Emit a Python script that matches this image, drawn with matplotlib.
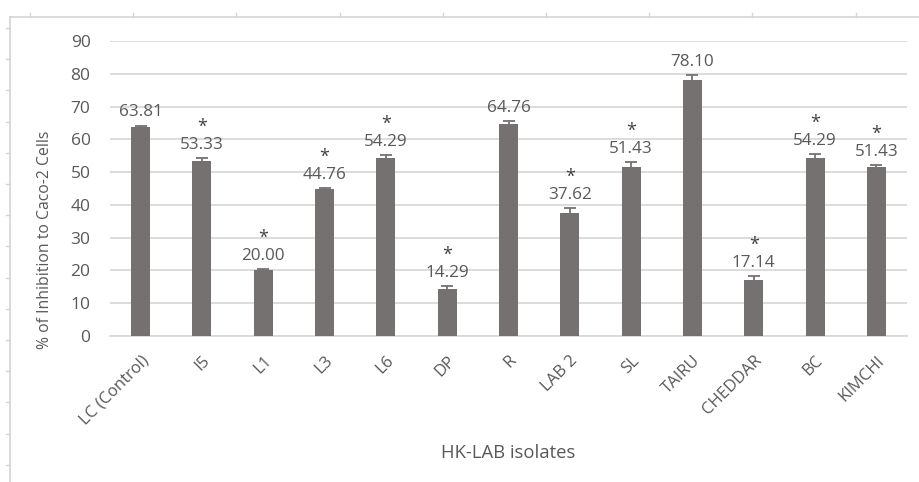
import matplotlib
matplotlib.use("Agg")
import matplotlib.pyplot as plt
from matplotlib.lines import Line2D
import numpy as np

categories = ["LC (Control)", "I5", "L1", "L3", "L6", "DP", "R", "LAB 2",
              "SL", "TAIRU", "CHEDDAR", "BC", "KIMCHI"]
inhibition = [63.81, 53.33, 20.00, 44.76, 54.29, 14.29, 64.76, 37.62,
              51.43, 78.10, 17.14, 54.29, 51.43]
errors = [0.4, 0.9, 0.4, 0.3, 0.9, 0.9, 0.9, 1.3, 1.7, 1.4, 1.2, 1.1, 0.7]
significant = [False, True, True, True, True, True, False, True,
               True, False, True, True, True]
y_ticks = [0, 10, 20, 30, 40, 50, 60, 70, 80, 90]

plt.rcParams['font.family'] = ['Open Sans', 'DejaVu Sans']
text_color = "#595959"
bar_color = "#767171"
grid_color = "#d9d9d9"

fig = plt.figure(figsize=(9.19, 4.82), dpi=100)
ax = fig.add_axes([110 / 919, 1 - 336 / 482, (907 - 110) / 919, (336 - 41) / 482])

x = np.arange(len(categories))
ax.bar(x, inhibition, width=0.31, color=bar_color, zorder=3,
       yerr=errors, error_kw=dict(ecolor=bar_color, elinewidth=1.3,
                                  capsize=4, capthick=1.3, zorder=4))

for xi, v, e, sig in zip(x, inhibition, errors, significant):
    ax.text(xi, v + e + 1.6, f"{v:.2f}", ha="center", va="bottom",
            fontsize=12.3, color=text_color, zorder=5)
    if sig:
        ax.text(xi, v + e + 6.8, "*", ha="center", va="bottom",
                fontsize=13, color="#404040", zorder=5)

ax.set_xlim(-0.5, len(categories) - 0.5)
ax.set_ylim(0, 90)
ax.set_yticks(y_ticks)
ax.yaxis.grid(True, color=grid_color, linewidth=1.3, zorder=0)
ax.set_axisbelow(True)
for s in ["top", "right", "left"]:
    ax.spines[s].set_visible(False)
ax.spines["bottom"].set_color(grid_color)
ax.spines["bottom"].set_linewidth(1.3)
ax.tick_params(axis="both", length=0, colors=text_color)
ax.tick_params(axis="y", pad=14, labelsize=12.5)
ax.set_xticks(x)
ax.set_xticklabels(categories, rotation=45, ha="right", rotation_mode="anchor")
ax.tick_params(axis="x", pad=12, labelsize=12)

fig.text(45 / 919, 1 - 240 / 482, "% of Inhibition to Caco-2 Cells",
         rotation=90, ha="center", va="center", fontsize=11.3, color=text_color)
fig.text(508 / 919, 1 - 453 / 482, "HK-LAB isolates", ha="center",
         va="center", fontsize=13.3, color=text_color)

# outer frame with ruler marks
frame_c = "#d4d4d4"
W, H = 919, 482
fig.add_artist(Line2D([10 / W, 10 / W], [0, 1 - 17 / H], color=frame_c, lw=1.2))
fig.add_artist(Line2D([10 / W, 1], [1 - 17 / H, 1 - 17 / H], color=frame_c, lw=1.2))
for tx in np.arange(30, 919, 103.2):
    fig.add_artist(Line2D([tx / W, tx / W], [1 - 17 / H, 1 - 13 / H], color=frame_c, lw=1))
for ty in np.arange(28, 482, 31.2):
    fig.add_artist(Line2D([6 / W, 10 / W], [1 - ty / H, 1 - ty / H], color=frame_c, lw=1))

fig.savefig("out.png", dpi=100, facecolor="white")
